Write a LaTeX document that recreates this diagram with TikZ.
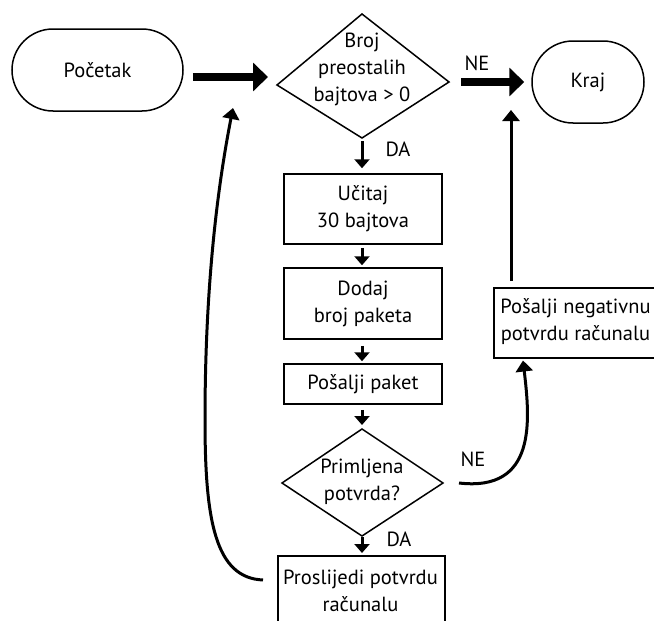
\documentclass[tikz,border=0pt]{standalone}
\usepackage{fontspec}
\setmainfont{PT Sans}
\usetikzlibrary{arrows.meta,calc}
\newcommand\fsz{\fontsize{20.5}{27}\selectfont}
\tikzset{
  txt/.style={font=\fsz, align=center, inner sep=0pt},
  term/.style={draw, line width=1.5pt, rounded corners=41pt, minimum height=82pt, inner sep=0pt, font=\fsz},
  proc/.style={draw, line width=1.5pt, rectangle, inner sep=0pt, align=center, font=\fsz},
  dia/.style={line width=1.5pt, line join=miter},
  thinarr/.style={line width=3pt, -{Triangle[length=9pt,width=15pt]}},
  curvarr/.style={line width=3pt, -{Triangle[length=11pt,width=17pt]}},
  bigarr/.style={line width=8pt, -{Triangle[length=15pt,width=28pt]}}
}
\begin{document}
\begin{tikzpicture}[x=1pt,y=-1pt]
\clip (0,0) rectangle (654,621);
\fill[white] (0,0) rectangle (654,621);
% terminals
\node[term, minimum width=171pt] (start) at (97.5,70) {Početak};
\node[term, minimum width=112pt] (end) at (588,82) {Kraj};
% decision 1
\coordinate (d1t) at (362,14);
\coordinate (d1r) at (449,82);
\coordinate (d1b) at (362,138);
\coordinate (d1l) at (277,85);
\draw[dia] (d1t) -- (d1r) -- (d1b) -- (d1l) -- cycle;
\node[txt] (d1) at (362,69) {Broj\\preostalih\\bajtova > 0};
% process boxes
\node[proc, minimum width=158pt, minimum height=70pt] (box1) at (363,209) {Učitaj\\30 bajtova};
\node[proc, minimum width=158pt, minimum height=71pt] (box2) at (363,303.5) {Dodaj\\broj paketa};
\node[proc, minimum width=158pt, minimum height=40pt] (box3) at (363,384) {Pošalji paket};
% decision 2
\coordinate (d2t) at (362,429);
\coordinate (d2r) at (443,483);
\coordinate (d2b) at (362,536);
\coordinate (d2l) at (282,483);
\draw[dia] (d2t) -- (d2r) -- (d2b) -- (d2l) -- cycle;
\node[txt] (d2) at (362,482) {Primljena\\potvrda?};
% forward box (cut at bottom)
\node[proc, minimum width=167pt, minimum height=84pt, anchor=north west] (fwd) at (277,555) {};
\node[txt] (fwdtxt) at (360.5,591) {Proslijedi potvrdu\\računalu};
% negative box (cut at right)
\node[proc, minimum width=175pt, minimum height=70pt, anchor=north west] (neg) at (493,287) {};
\node[txt] (negtxt) at (575.5,322) {Pošalji negativnu\\potvrdu računalu};
% big arrows
\draw[bigarr] ($(start.east)+(9,7)$) -- ($(d1l)+(-9,-8)$);
\draw[bigarr] ($(d1r)+(12,0)$) -- ($(end.west)+(-7,0)$);
\node[txt] (ne1) at (477,63) {NE};
% vertical small arrows
\draw[thinarr] ($(d1b)+(0,3)$) -- ($(box1.north)+(-1,-5)$);
\node[txt] (da1) at (398,149) {DA};
\draw[thinarr] ($(box1.south)+(-1,3)$) -- ($(box2.north)+(-1,-2)$);
\draw[thinarr] ($(box2.south)+(-1,6)$) -- ($(box3.north)+(-1,-2)$);
\draw[thinarr] ($(box3.south)+(-1,5)$) -- ($(d2t)+(0,-4)$);
\draw[thinarr] ($(d2b)+(0,1)$) -- ($(fwd.north west)+(85,-2)$);
\node[txt] (da2) at (399,539) {DA};
% NE curve to negative box
\draw[curvarr] ($(d2r)+(16,0)$) .. controls (537,492) and (530,420) .. ($(neg.south west)+(30,2)$);
\node[txt] (ne2) at (473,459) {NE};
% negative box up to Kraj level
\draw[curvarr] ($(neg.north west)+(18,-6)$) -- ($(neg.north west)+(18,-177)$);
% loop back from forward box
\draw[curvarr] ($(fwd.north west)+(-14,25)$) .. controls (215,578) and (205,520) .. (205,420)
   .. controls (205,300) and (215,200) .. ($(d1l)+(-44,23)$);
\end{tikzpicture}
\end{document}
